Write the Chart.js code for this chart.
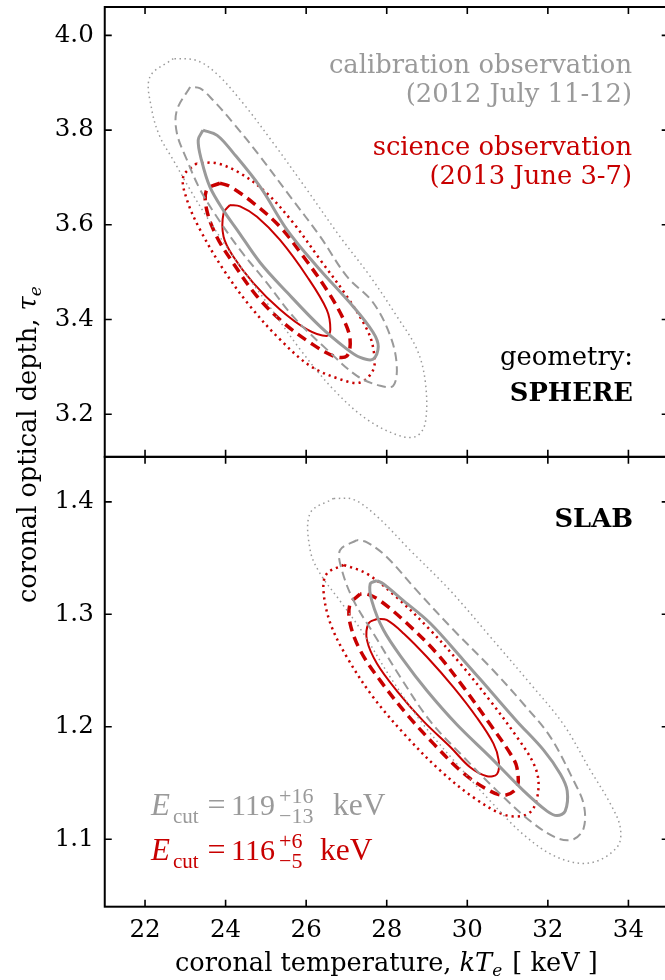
<!DOCTYPE html>
<html><head><meta charset="utf-8">
<script src="https://cdn.jsdelivr.net/npm/chart.js@4.4.1/dist/chart.umd.min.js"></script>
<style>
html,body{margin:0;padding:0;background:#fff;overflow:hidden;width:665px;height:980px}
#wrap{position:absolute;left:0;top:0;width:670px;height:980px}
canvas{display:block}
</style></head>
<body><div id="wrap"><canvas id="c" width="670" height="980" style="width:670px;height:980px"></canvas></div>
<script>
// ---- axes / ticks ----
const xTicks = [22, 24, 26, 28, 30, 32, 34];
const yTopTicks = [3.2, 3.4, 3.6, 3.8, 4.0];
const yBotTicks = [1.1, 1.2, 1.3, 1.4];
const xRange = [21, 35];
const yTopRange = [3.11, 4.06];
const yBotRange = [1.04, 1.44];

// ---- SPHERE panel contours: [kTe, tau] ----
const sphereCalSolid = [[23.44,3.800],[23.32,3.779],[23.40,3.737],[23.61,3.680],[23.95,3.630],[24.29,3.589],[24.86,3.520],[25.53,3.457],[26.35,3.385],[27.02,3.337],[27.34,3.320],[27.66,3.316],[27.79,3.343],[27.66,3.373],[27.17,3.427],[26.27,3.512],[25.53,3.589],[24.86,3.680],[24.19,3.752],[23.79,3.789]];
const sphereCalDashed = [[23.12,3.891],[22.79,3.842],[22.79,3.794],[23.04,3.737],[23.37,3.674],[23.78,3.617],[24.36,3.547],[25.02,3.478],[25.68,3.406],[26.51,3.337],[27.26,3.281],[27.84,3.260],[28.16,3.260],[28.25,3.302],[28.09,3.365],[27.66,3.436],[27.01,3.491],[26.35,3.575],[25.60,3.660],[24.86,3.744],[24.19,3.815],[23.69,3.863],[23.37,3.888]];
const sphereCalDotted = [[22.70,3.951],[22.12,3.912],[22.17,3.842],[22.37,3.786],[22.70,3.737],[23.12,3.674],[23.53,3.617],[24.19,3.533],[25.02,3.436],[25.85,3.337],[26.67,3.253],[27.51,3.189],[28.34,3.154],[28.75,3.154],[28.96,3.183],[28.96,3.267],[28.75,3.337],[28.25,3.407],[27.59,3.491],[26.84,3.575],[26.02,3.674],[25.19,3.772],[24.44,3.856],[23.78,3.919],[23.28,3.947]];
const sphereSciSolid = [[24.11,3.642],[23.95,3.625],[23.95,3.575],[24.19,3.533],[24.69,3.477],[25.35,3.421],[26.02,3.379],[26.51,3.365],[26.60,3.379],[26.51,3.421],[26.02,3.491],[25.35,3.568],[24.78,3.617],[24.36,3.639]];
const sphereSciDashed = [[23.86,3.688],[23.53,3.674],[23.53,3.632],[23.78,3.575],[24.19,3.519],[24.78,3.449],[25.44,3.393],[26.10,3.351],[26.68,3.323],[27.01,3.323],[27.09,3.358],[26.93,3.400],[26.51,3.463],[25.93,3.533],[25.35,3.596],[24.69,3.646],[24.11,3.681]];
const sphereSciDotted = [[23.28,3.730],[22.95,3.702],[23.04,3.653],[23.37,3.589],[23.95,3.505],[24.61,3.428],[25.35,3.358],[26.10,3.302],[26.84,3.274],[27.34,3.267],[27.67,3.295],[27.67,3.337],[27.51,3.379],[27.01,3.449],[26.35,3.526],[25.68,3.604],[25.02,3.667],[24.36,3.709],[23.78,3.730]];

// ---- SLAB panel contours: [kTe, tau] ----
const slabCalSolid = [[27.76,1.330],[27.59,1.327],[27.63,1.312],[27.92,1.286],[28.42,1.259],[29.00,1.232],[29.74,1.202],[30.57,1.173],[31.40,1.143],[31.98,1.125],[32.23,1.121],[32.43,1.125],[32.48,1.143],[32.31,1.158],[31.90,1.179],[31.23,1.205],[30.57,1.232],[29.91,1.259],[29.08,1.292],[28.42,1.312],[27.92,1.327]];
const slabCalDashed = [[27.26,1.366],[26.84,1.357],[26.89,1.339],[27.18,1.312],[27.67,1.283],[28.34,1.244],[29.08,1.205],[29.91,1.173],[30.74,1.143],[31.57,1.116],[32.23,1.101],[32.64,1.100],[32.89,1.110],[32.89,1.131],[32.64,1.152],[32.06,1.191],[31.40,1.220],[30.57,1.253],[29.66,1.286],[28.75,1.321],[28.00,1.351],[27.51,1.364]];
const slabCalDotted = [[26.68,1.403],[26.10,1.390],[26.10,1.357],[26.35,1.336],[26.84,1.312],[27.42,1.283],[28.09,1.244],[28.91,1.202],[29.74,1.167],[30.57,1.134],[31.40,1.104],[32.23,1.084],[33.06,1.079],[33.72,1.093],[33.80,1.110],[33.56,1.131],[33.06,1.161],[32.39,1.202],[31.57,1.238],[30.57,1.280],[29.58,1.321],[28.58,1.357],[27.76,1.387],[27.18,1.402]];
const slabSciSolid = [[27.76,1.296],[27.55,1.292],[27.51,1.277],[27.76,1.256],[28.25,1.232],[28.91,1.205],[29.58,1.182],[30.07,1.164],[30.49,1.156],[30.74,1.158],[30.78,1.170],[30.65,1.185],[30.24,1.208],[29.66,1.235],[29.00,1.262],[28.42,1.283],[28.00,1.295]];
const slabSciDashed = [[27.34,1.318],[27.09,1.309],[27.09,1.292],[27.34,1.268],[27.84,1.241],[28.50,1.211],[29.16,1.185],[29.83,1.161],[30.41,1.146],[30.90,1.139],[31.23,1.146],[31.23,1.164],[31.07,1.176],[30.57,1.202],[29.91,1.235],[29.25,1.265],[28.50,1.292],[27.84,1.312],[27.51,1.318]];
const slabSciDotted = [[26.93,1.344],[26.51,1.336],[26.43,1.321],[26.60,1.292],[27.01,1.262],[27.67,1.226],[28.50,1.191],[29.33,1.161],[30.16,1.137],[30.90,1.122],[31.40,1.121],[31.65,1.128],[31.77,1.149],[31.65,1.167],[31.23,1.191],[30.57,1.223],[29.83,1.256],[29.08,1.286],[28.25,1.315],[27.51,1.336]];

const GRAY = '#9a9a9a';
const RED = '#c80000';
const FONT = '"DejaVu Serif", serif';
const MATH = '"Liberation Serif", "DejaVu Serif", serif';

const styles = {
  calSolid:  {color: GRAY, width: 3,   dash: []},
  calDashed: {color: GRAY, width: 2,   dash: [9, 5]},
  calDotted: {color: GRAY, width: 1.5, dash: [1.5, 3.5]},
  sciSolid:  {color: RED,  width: 2,   dash: []},
  sciDashed: {color: RED,  width: 3.5, dash: [10, 6]},
  sciDotted: {color: RED,  width: 2.5, dash: [2.2, 4]}
};

function ds(points, axis, st) {
  const d = points.map(p => ({x: p[0], y: p[1]}));
  d.push({x: points[0][0], y: points[0][1]});
  return {
    data: d, yAxisID: axis, showLine: true, fill: false,
    borderColor: st.color, borderWidth: st.width, borderDash: st.dash,
    pointRadius: 0, pointHoverRadius: 0, tension: 0.35,
    borderCapStyle: 'butt', borderJoinStyle: 'round'
  };
}

const datasets = [
  ds(sphereCalDotted, 'yTop', styles.calDotted),
  ds(sphereCalDashed, 'yTop', styles.calDashed),
  ds(sphereCalSolid,  'yTop', styles.calSolid),
  ds(sphereSciDotted, 'yTop', styles.sciDotted),
  ds(sphereSciDashed, 'yTop', styles.sciDashed),
  ds(sphereSciSolid,  'yTop', styles.sciSolid),
  ds(slabCalDotted, 'yBot', styles.calDotted),
  ds(slabCalDashed, 'yBot', styles.calDashed),
  ds(slabCalSolid,  'yBot', styles.calSolid),
  ds(slabSciDotted, 'yBot', styles.sciDotted),
  ds(slabSciDashed, 'yBot', styles.sciDashed),
  ds(slabSciSolid,  'yBot', styles.sciSolid)
];

function runs(ctx, list, x0, base) {
  // list of [text, font, color, dy, dxBefore]
  let x = x0;
  list.forEach(r => {
    ctx.font = r[1]; ctx.fillStyle = r[2];
    x += (r[4] || 0);
    ctx.fillText(r[0], x, base + (r[3] || 0));
    x += ctx.measureText(r[0]).width;
  });
  return x;
}

function centered(ctx, s, font, cx, base) {
  ctx.font = font;
  const w = ctx.measureText(s).width;
  ctx.fillText(s, cx - w / 2, base);
}

const framePlugin = {
  id: 'frame',
  afterDatasetsDraw(chart) {
    const ctx = chart.ctx;
    const xs = chart.scales.x, yt = chart.scales.yTop, yb = chart.scales.yBot;
    const L = chart.chartArea.left, R = chart.chartArea.right;
    ctx.save();
    ctx.setLineDash([]);
    ctx.strokeStyle = '#000';
    ctx.lineWidth = 2;
    [yt, yb].forEach(s => ctx.strokeRect(L, s.top, R - L, s.bottom - s.top));
    ctx.lineWidth = 1.6;
    const T = 7;
    ctx.beginPath();
    xTicks.forEach(v => {
      const px = xs.getPixelForValue(v);
      [yt, yb].forEach(s => {
        ctx.moveTo(px, s.top); ctx.lineTo(px, s.top + T);
        ctx.moveTo(px, s.bottom); ctx.lineTo(px, s.bottom - T);
      });
    });
    [[yt, yTopTicks], [yb, yBotTicks]].forEach(([s, tk]) => tk.forEach(v => {
      const py = s.getPixelForValue(v);
      ctx.moveTo(L, py); ctx.lineTo(L + T, py);
      ctx.moveTo(R, py); ctx.lineTo(R - T, py);
    }));
    ctx.stroke();

    // annotations
    ctx.textBaseline = 'alphabetic';
    ctx.textAlign = 'right';
    ctx.font = '25.8px ' + FONT;
    ctx.fillStyle = GRAY;
    ctx.fillText('calibration observation', 632, 73);
    ctx.fillText('(2012 July 11-12)', 632, 102);
    ctx.fillStyle = RED;
    ctx.fillText('science observation', 632, 155);
    ctx.fillText('(2013 June 3-7)', 632, 184);
    ctx.fillStyle = '#000';
    ctx.fillText('geometry:', 633, 365);
    ctx.font = 'bold 25.8px ' + FONT;
    ctx.fillText('SPHERE', 633, 401);
    ctx.fillText('SLAB', 633, 527);

    // E_cut labels
    ctx.textAlign = 'left';
    const big = '30px ' + MATH, bigI = 'italic 31px ' + MATH, sm = '21px ' + MATH, scr = '22px ' + MATH;
    [[GRAY, 815, '119', '+16', '\u221213', 333], [RED, 860, '116', '+6', '\u22125', 320]].forEach(([c, b, v, up, lo, kx]) => {
      ctx.fillStyle = c;
      ctx.font = bigI; ctx.fillText('E', 151, b);
      ctx.font = sm; ctx.fillText('cut', 173, b + 8);
      centered(ctx, '=', '32px ' + MATH, 216.5, b);
      ctx.font = big; ctx.fillText(v, 231, b);
      ctx.font = scr;
      ctx.fillText(up, 279, b - 12);
      ctx.fillText(lo, 279, b + 8);
      ctx.font = '31.5px ' + MATH; ctx.fillText('keV', kx, b);
    });

    // x title
    ctx.fillStyle = '#000';
    runs(ctx, [['coronal temperature, ', '25.6px ' + FONT, '#000', 0, 0], ['kT', 'italic 25.6px ' + FONT, '#000', 0, 0], ['e', 'italic 17px ' + FONT, '#000', 5, 0], [' [ keV ]', '25.6px ' + FONT, '#000', 0, 2]], 175, 971);

    // y title
    ctx.translate(36, 603);
    ctx.rotate(-Math.PI / 2);
    runs(ctx, [['coronal optical depth, ', '25.6px ' + FONT, '#000', 0, 0], ['\u03c4', 'italic 25.6px ' + FONT, '#000', 0, 0], ['e', 'italic 17px ' + FONT, '#000', 5, 0]], 0, 0);
    ctx.restore();
  }
};

const tickFont = {family: FONT, size: 24.5};
function noPad(s) { s.paddingTop = 0; s.paddingBottom = 0; s.paddingLeft = 0; s.paddingRight = 0; }
function yScale(range, ticks, w) {
  return {
    type: 'linear', position: 'left', stack: 'panels', stackWeight: 1, weight: w,
    min: range[0], max: range[1],
    grid: {display: false, drawTicks: false}, border: {display: false},
    ticks: {font: tickFont, color: '#000', padding: 11, callback: v => Number(v).toFixed(1)},
    afterBuildTicks: s => { s.ticks = ticks.map(v => ({value: v})); },
    afterFit: s => { s.width = 104.75; noPad(s); }
  };
}

new Chart(document.getElementById('c'), {
  type: 'scatter',
  data: {datasets},
  options: {
    responsive: false, animation: false, devicePixelRatio: 1,
    layout: {padding: {top: 7, right: 1.3, left: 0, bottom: 0}},
    plugins: {legend: {display: false}, tooltip: {enabled: false}},
    scales: {
      x: {
        type: 'linear', position: 'bottom', min: xRange[0], max: xRange[1],
        grid: {display: false, drawTicks: false}, border: {display: false},
        ticks: {font: tickFont, color: '#000', padding: 9, callback: v => String(v)},
        afterBuildTicks: s => { s.ticks = xTicks.map(v => ({value: v})); },
        afterFit: s => { s.height = 73.3; noPad(s); }
      },
      yTop: yScale(yTopRange, yTopTicks, 2),
      yBot: yScale(yBotRange, yBotTicks, 1)
    }
  },
  plugins: [framePlugin]
});
</script>
</body></html>
